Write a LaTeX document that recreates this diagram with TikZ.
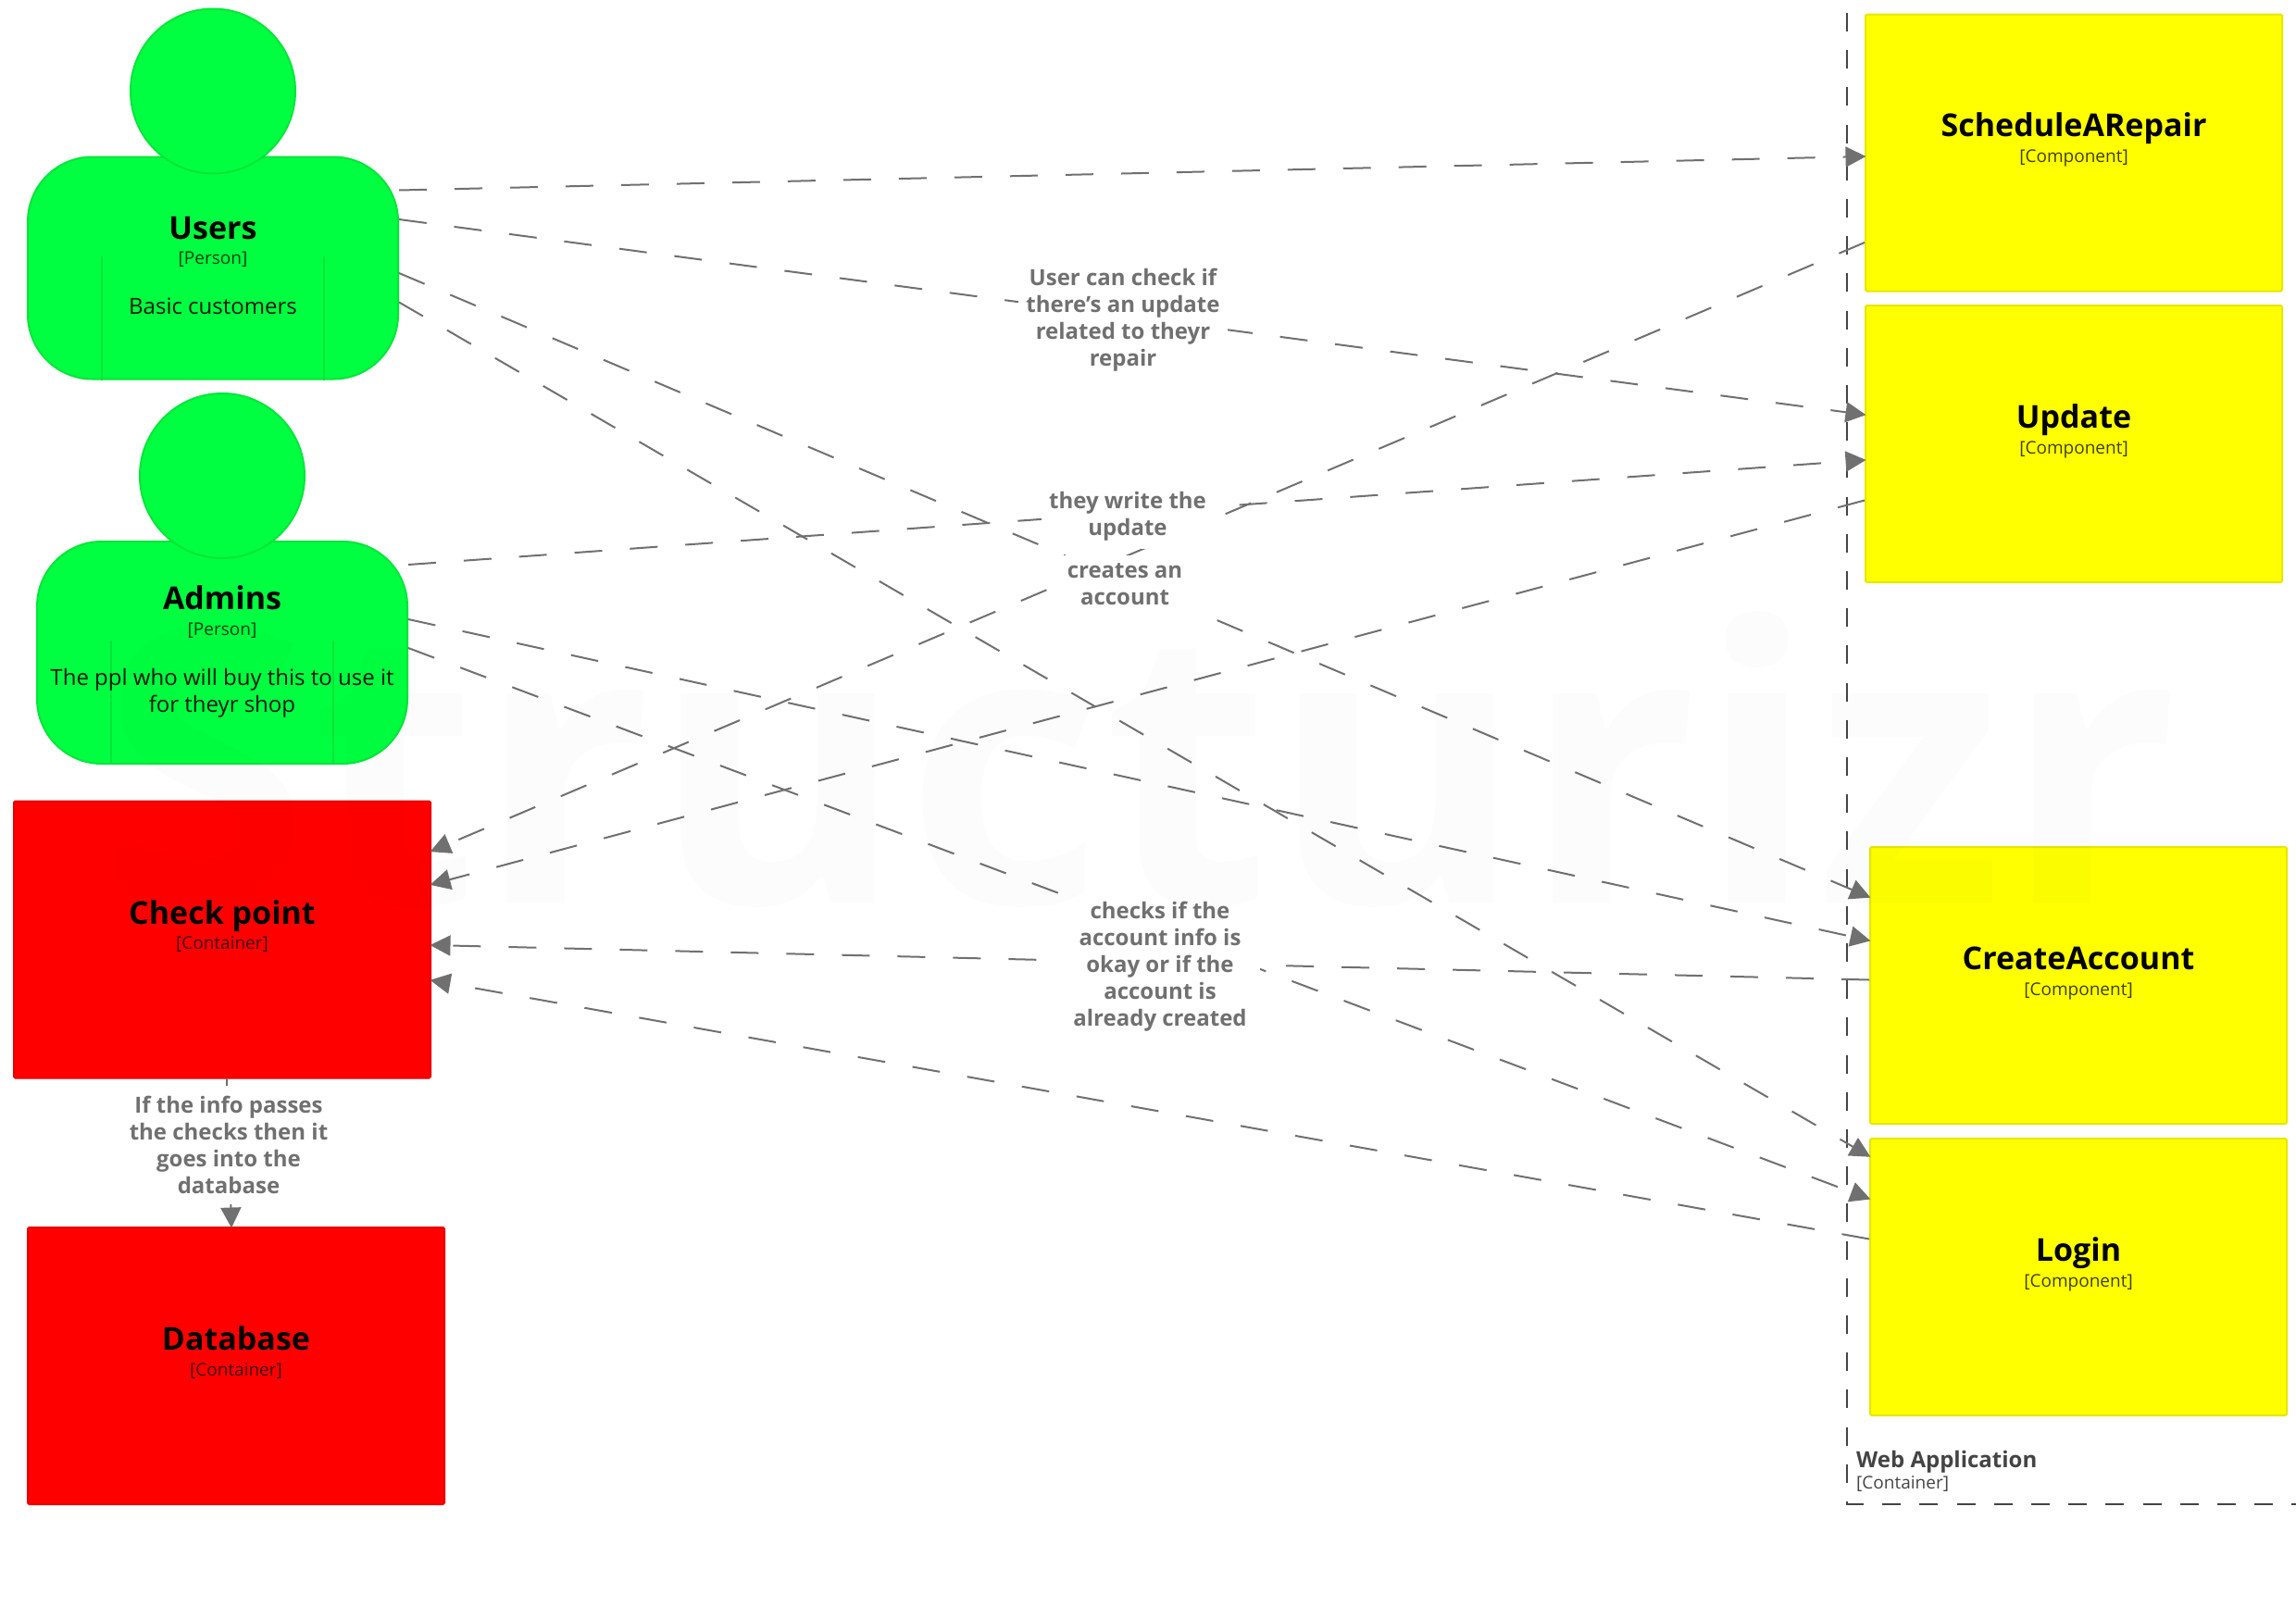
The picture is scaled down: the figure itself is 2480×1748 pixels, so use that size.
\documentclass[tikz,border=0pt]{standalone}
\usepackage{fontspec}
\setmainfont{Open Sans}
\usetikzlibrary{arrows.meta, calc, positioning}
\definecolor{persongreen}{HTML}{00FF40}
\definecolor{persondark}{HTML}{00E639}
\definecolor{contred}{HTML}{FF0000}
\definecolor{contdark}{HTML}{E60000}
\definecolor{compyellow}{HTML}{FFFF00}
\definecolor{compdark}{HTML}{E6E600}
\definecolor{relgray}{HTML}{707070}
\definecolor{boundgray}{HTML}{444444}
\tikzset{
	compbox/.style={draw=compdark,fill=compyellow,line width=2,minimum width=450,minimum height=299,rounded corners=1.5},
	contbox/.style={draw=contdark,fill=contred,line width=2,minimum width=450,minimum height=299,rounded corners=1.5},
	personbody/.style={draw=persondark,fill=persongreen,line width=2,minimum width=400,minimum height=240,rounded corners=70},
	personhead/.style={circle,draw=persondark,fill=persongreen,line width=2,minimum size=178},
	personline/.style={draw=persondark,line width=1.5},
	boxname/.style={anchor=base,inner sep=0,font=\bfseries\fontsize{34}{41}\selectfont},
	boxmeta/.style={anchor=base,inner sep=0,text opacity=.75,font=\fontsize{19}{23}\selectfont},
	boxdescr/.style={inner sep=0,align=center,text opacity=.9,font=\fontsize{24}{29}\selectfont},
	rel/.style={draw=relgray,line width=2,dash pattern=on 30 off 30,shorten >=-1.5,-{Triangle[length=22,width=22]}},
	rellabel/.style={fill=white,inner sep=8,align=center,text=relgray,font=\bfseries\fontsize{24}{29}\selectfont},
	boundary/.style={draw=boundgray,line width=2.5,dash pattern=on 20 off 20.2}
}
\begin{document}
\begin{tikzpicture}[x=1pt,y=-1pt]
	\useasboundingbox (0,0) rectangle (2480,1748);
	% web application boundary
	\draw[boundary,dash phase=17] (1995,1625) -- (1995,-10);
	\draw[boundary,dash phase=1] (1994,1625) -- (2490,1625);
	\node[anchor=base west,inner sep=0,text=boundgray,font=\bfseries\fontsize{24}{29}\selectfont] (webname) at (2005,1585) {Web Application};
	\node[anchor=base west,inner sep=0,text=boundgray,font=\fontsize{19}{23}\selectfont] (webmeta) at (2005,1608.5) {[Container]};
	% users
	\node[personbody] (usersbody) at (230,289.5) {};
	\draw[personline] ($(usersbody.south west)+(81,0)$) -- +(0,-134);
	\draw[personline] ($(usersbody.south east)+(-81,0)$) -- +(0,-134);
	\node[personhead] (usershead) at (230,98.5) {};
	\node[boxname] (usersname) at ($(usersbody.center)+(0,-31)$) {Users};
	\node[boxmeta] (usersmeta) at ($(usersbody.center)+(0,-4)$) {[Person]};
	\node[boxdescr] (usersdescr) at ($(usersbody.center)+(0,41)$) {Basic customers};
	% admins
	\node[personbody] (adminsbody) at (240,705) {};
	\draw[personline] ($(adminsbody.south west)+(81,0)$) -- +(0,-134);
	\draw[personline] ($(adminsbody.south east)+(-81,0)$) -- +(0,-134);
	\node[personhead] (adminshead) at (240,514) {};
	\node[boxname] (adminsname) at ($(adminsbody.center)+(0,-47)$) {Admins};
	\node[boxmeta] (adminsmeta) at ($(adminsbody.center)+(0,-19)$) {[Person]};
	\node[boxdescr] (adminsdescr) at ($(adminsbody.center)+(0,44)$) {The ppl who will buy this to use it\\for theyr shop};
	% containers
	\node[contbox] (check) at (240,1015) {};
	\node[boxname] (checkname) at ($(check.center)+(0,-17)$) {Check point};
	\node[boxmeta] (checkmeta) at ($(check.center)+(0,10.5)$) {[Container]};
	\node[contbox] (database) at (255,1475.5) {};
	\node[boxname] (databasename) at ($(database.center)+(0,-17)$) {Database};
	\node[boxmeta] (databasemeta) at ($(database.center)+(0,10.5)$) {[Container]};
	% components
	\node[compbox] (schedule) at (2240,165) {};
	\node[boxname] (schedulename) at ($(schedule.center)+(0,-18)$) {ScheduleARepair};
	\node[boxmeta] (schedulemeta) at ($(schedule.center)+(0,10.5)$) {[Component]};
	\node[compbox] (update) at (2240,479.5) {};
	\node[boxname] (updatename) at ($(update.center)+(0,-17)$) {Update};
	\node[boxmeta] (updatemeta) at ($(update.center)+(0,10.5)$) {[Component]};
	\node[compbox] (create) at (2245,1064.5) {};
	\node[boxname] (createname) at ($(create.center)+(0,-17)$) {CreateAccount};
	\node[boxmeta] (createmeta) at ($(create.center)+(0,10.5)$) {[Component]};
	\node[compbox] (login) at (2245,1379.5) {};
	\node[boxname] (loginname) at ($(login.center)+(0,-17)$) {Login};
	\node[boxmeta] (loginmeta) at ($(login.center)+(0,10.5)$) {[Component]};
	% relations
	\draw[rel] ($(usersbody.east)+(0,-84)$) -- ($(schedule.west)+(0,4)$);
	\draw[rel] ($(usersbody.east)+(0,-52.5)$) -- ($(update.west)+(0,-31.5)$);
	\draw[rel] ($(usersbody.east)+(0,5.5)$) -- ($(create.west)+(0,-95.5)$);
	\draw[rel] ($(usersbody.east)+(0,37)$) -- ($(login.west)+(0,-130.5)$);
	\draw[rel] ($(adminsbody.east)+(0,-95)$) -- ($(update.west)+(0,17.5)$);
	\draw[rel] ($(adminsbody.east)+(0,-36)$) -- ($(create.west)+(0,-48.5)$);
	\draw[rel] ($(adminsbody.east)+(0,-5)$) -- ($(login.west)+(0,-84.5)$);
	\draw[rel] ($(schedule.west)+(0,97)$) -- ($(check.north east)+(0,55)$);
	\draw[rel] ($(update.west)+(0,61)$) -- ($(check.north east)+(0,91)$);
	\draw[rel] ($(create.west)+(0,-6)$) -- ($(check.east)+(0,6)$);
	\draw[rel] ($(login.west)+(0,-41)$) -- ($(check.east)+(0,44)$);
	\draw[rel] ($(check.south)+(5,0)$) -- ($(database.north)+(-5,0)$);
	% relation labels
	\node[rellabel] (repairlabel) at (1213,346) {User can check if\\there's an update\\related to theyr\\repair};
	\node[rellabel,minimum width=184] (writelabel) at (1218,558) {they write the\\update};
	\node[rellabel,minimum width=168] (accountlabel) at (1215,631) {creates an\\account};
	\node[rellabel,minimum width=216] (checkslabel) at (1253,1044) {checks if the\\account info is\\okay or if the\\account is\\already created};
	\node[rellabel,inner ysep=11] (passlabel) at (247,1237) {If the info passes\\the checks then it\\goes into the\\database};
	% watermark
	\node[anchor=base,inner sep=0,text opacity=.012,font=\fontsize{416}{416}\selectfont\bfseries] (watermark) at (1230,976) {Structurizr};
\end{tikzpicture}
\end{document}
